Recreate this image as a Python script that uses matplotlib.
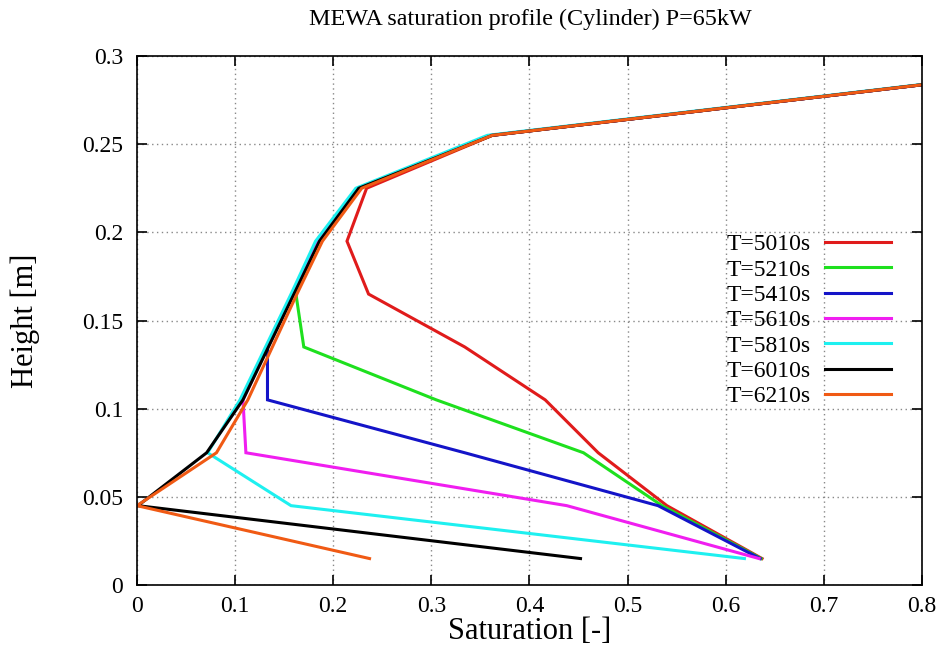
import matplotlib
matplotlib.use("Agg")
import matplotlib.pyplot as plt

# Cell-centre heights [m]
heights = [0.015, 0.045, 0.075, 0.105, 0.135, 0.165, 0.195, 0.225, 0.255, 0.285]

# Saturation profiles at each time
s_5010 = [0.637, 0.540, 0.470, 0.416, 0.334, 0.236, 0.214, 0.234, 0.362, 0.82]
s_5210 = [0.636, 0.535, 0.455, 0.305, 0.170, 0.162, 0.183, 0.225, 0.361, 0.82]
s_5410 = [0.635, 0.531, 0.334, 0.133, 0.133, 0.159, 0.184, 0.225, 0.361, 0.82]
s_5610 = [0.634, 0.438, 0.111, 0.108, 0.133, 0.159, 0.184, 0.225, 0.361, 0.82]
s_5810 = [0.619, 0.157, 0.072, 0.105, 0.131, 0.157, 0.182, 0.223, 0.357, 0.817]
s_6010 = [0.452, 0.001, 0.071, 0.108, 0.134, 0.160, 0.186, 0.226, 0.362, 0.82]
s_6210 = [0.237, 0.000, 0.081, 0.113, 0.138, 0.163, 0.189, 0.229, 0.362, 0.82]

labels = ["T=5010s", "T=5210s", "T=5410s", "T=5610s", "T=5810s", "T=6010s", "T=6210s"]
series = [s_5010, s_5210, s_5410, s_5610, s_5810, s_6010, s_6210]
colors = ["#e01b1b", "#1ee01e", "#1414c8", "#f01ef0", "#1ef0f0", "#000000", "#f05a14"]

x_ticks = [0, 0.1, 0.2, 0.3, 0.4, 0.5, 0.6, 0.7, 0.8]
y_ticks = [0, 0.05, 0.1, 0.15, 0.2, 0.25, 0.3]

plt.rcParams["font.family"] = ["Liberation Serif", "DejaVu Serif"]

fig = plt.figure(figsize=(9.42, 6.62), dpi=100)
ax = fig.add_axes([0.1454, 0.1163, 0.8334, 0.7991])

for s, lab, c in zip(series, labels, colors):
    ax.plot(s, heights, color=c, lw=2.2, label=lab, solid_joinstyle="miter")

ax.set_xlim(0, 0.8)
ax.set_ylim(0, 0.3)
ax.set_xticks(x_ticks)
ax.set_xticklabels([f"{v:g}" for v in x_ticks])
ax.set_yticks(y_ticks)
ax.set_yticklabels([f"{v:g}" for v in y_ticks])
ax.tick_params(direction="in", top=True, right=True, length=7, width=1.2,
               labelsize=17, pad=10)
ax.tick_params(axis="x", pad=8)
ax.grid(True, color="#888888", linestyle=(0, (1, 2.5)), linewidth=1.0)
for sp in ax.spines.values():
    sp.set_linewidth(1.2)

ax.set_xlabel("Saturation [-]", fontsize=22, labelpad=0)
ax.set_ylabel("Height [m]", fontsize=22, labelpad=30)
fig.text(530 / 942, 0.97, "MEWA saturation profile (Cylinder) P=65kW",
         ha="center", va="center", fontsize=17.4)

leg = ax.legend(loc="upper left", bbox_to_anchor=(0.73, 0.695), frameon=False,
                markerfirst=False, fontsize=17, handlelength=2.8,
                labelspacing=0.16, handletextpad=0.6, borderpad=0.2)

fig.savefig("out.png", dpi=100)
